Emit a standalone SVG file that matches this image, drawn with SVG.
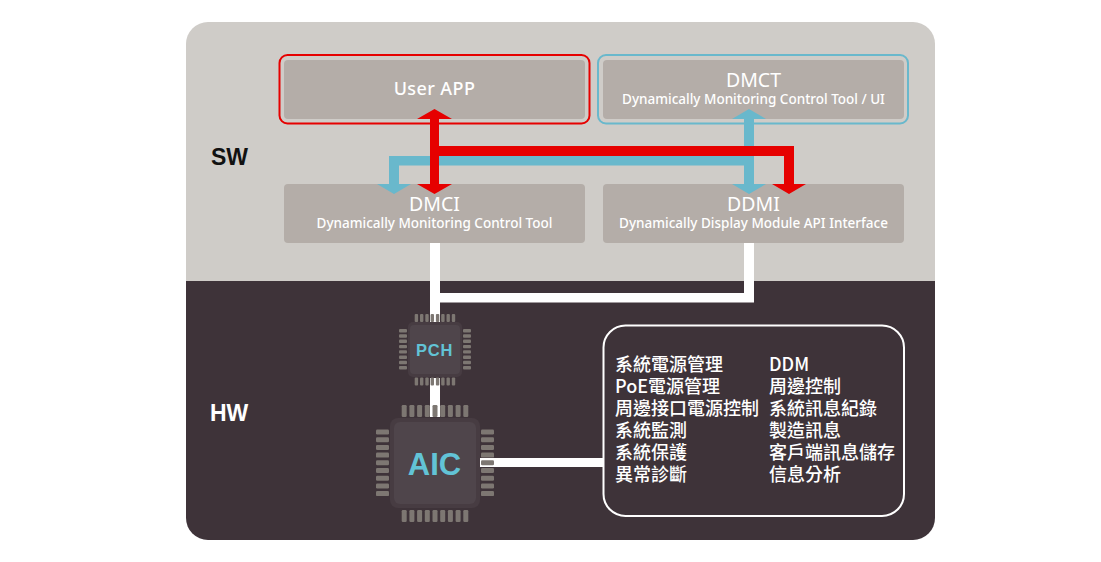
<svg xmlns="http://www.w3.org/2000/svg" width="1101" height="562" viewBox="0 0 1101 562">
<style>
.box{fill:#b4ada8}
.t{font-family:"Noto Sans","Open Sans",sans-serif;fill:#fff;text-anchor:middle}
.h{font-size:19.500px}
.s{font-size:13.500px;font-weight:500}
.lab{font-family:"Liberation Sans",Arial,sans-serif;font-weight:700;font-size:23px}
.cjk{font-family:"Noto Sans CJK TC","Noto Sans",sans-serif;font-size:18px;font-weight:500;fill:#fff}
.pin{fill:#7d7772}
.chip{font-family:"Liberation Sans",Arial,sans-serif;font-weight:700;fill:#62c3d6;text-anchor:middle}
.red{fill:#e60000}.blue{fill:#69b8cc}.wh{fill:#fff}
</style>
<defs>
<g id="pv"><rect width="3.400" height="8" rx="1" class="pin"/></g>
<g id="ph"><rect width="8" height="3.400" rx="1" class="pin"/></g>
<g id="bv"><rect width="5" height="12" rx="1.200" class="pin"/></g>
<g id="bh"><rect width="13" height="5" rx="1.200" class="pin"/></g>
</defs>
<g id="panels">
<path d="M186 281V44a22 22 0 0 1 22-22H913a22 22 0 0 1 22 22V281Z" fill="#cfccc8"/>
<path d="M186 281H935V518a22 22 0 0 1-22 22H208a22 22 0 0 1-22-22Z" fill="#3e3339"/>
<text class="lab" x="211" y="165" fill="#111">SW</text>
<text class="lab" x="210" y="421" fill="#fff">HW</text>
</g>
<g id="user-app">
<rect x="279.500" y="55" width="310" height="68.500" rx="8" fill="none" stroke="#e60000" stroke-width="2"/>
<rect class="box" x="284" y="60" width="301" height="59" rx="4"/>
<text class="t" x="434.500" y="95" font-size="18" font-weight="500" letter-spacing="0.400">User APP</text>
</g>
<g id="dmct">
<rect x="598" y="55" width="310" height="68.500" rx="8" fill="none" stroke="#69b8cc" stroke-width="2"/>
<rect class="box" x="603" y="60" width="301" height="59" rx="4"/>
<text class="t h" x="753.500" y="87">DMCT</text>
<text class="t s" x="753.500" y="104">Dynamically Monitoring Control Tool / UI</text>
</g>
<g id="dmci">
<rect class="box" x="284" y="184" width="301" height="59" rx="4"/>
<text class="t h" x="434.500" y="211">DMCI</text>
<text class="t s" x="434.500" y="228">Dynamically Monitoring Control Tool</text>
</g>
<g id="ddmi">
<rect class="box" x="603" y="184" width="301" height="59" rx="4"/>
<text class="t h" x="753.500" y="211">DDMI</text>
<text class="t s" x="753.500" y="228">Dynamically Display Module API Interface</text>
</g>
<g id="connectors">
<path class="wh" d="M430 243h10v50h304v-50h10v59.500h-314V322h-10Z"/>
<rect class="wh" x="430" y="378" width="10" height="39"/>
<rect class="wh" x="480" y="458" width="124" height="9"/>
<path class="blue" d="M389 156H754V165.500H399V184H411L394 194L377 184H389Z"/>
<path class="blue" d="M749 109L766 119H754V184H766L749 194L732 184H744V119H732Z"/>
<path class="red" d="M434.500 109L452 119H439V146H794V184H806L789 194L772 184H784V156H439V184H452L434.500 194L417 184H430V119H417Z"/>
</g>
<g id="pch">
<rect x="408" y="322" width="54" height="55" rx="5" fill="#473c42"/>
<rect x="410" y="325" width="50" height="49" rx="4" fill="#4f454b"/>
<g>
<use href="#pv" x="414.700" y="314"/><use href="#pv" x="420" y="314"/><use href="#pv" x="425.300" y="314"/><use href="#pv" x="430.600" y="314"/><use href="#pv" x="435.900" y="314"/><use href="#pv" x="441.200" y="314"/><use href="#pv" x="446.500" y="314"/><use href="#pv" x="451.800" y="314"/>
<use href="#pv" x="414.700" y="377.500"/><use href="#pv" x="420" y="377.500"/><use href="#pv" x="425.300" y="377.500"/><use href="#pv" x="430.600" y="377.500"/><use href="#pv" x="435.900" y="377.500"/><use href="#pv" x="441.200" y="377.500"/><use href="#pv" x="446.500" y="377.500"/><use href="#pv" x="451.800" y="377.500"/>
<use href="#ph" x="399" y="329"/><use href="#ph" x="399" y="334.300"/><use href="#ph" x="399" y="339.600"/><use href="#ph" x="399" y="344.900"/><use href="#ph" x="399" y="350.200"/><use href="#ph" x="399" y="355.500"/><use href="#ph" x="399" y="360.800"/><use href="#ph" x="399" y="366.100"/>
<use href="#ph" x="463" y="329"/><use href="#ph" x="463" y="334.300"/><use href="#ph" x="463" y="339.600"/><use href="#ph" x="463" y="344.900"/><use href="#ph" x="463" y="350.200"/><use href="#ph" x="463" y="355.500"/><use href="#ph" x="463" y="360.800"/><use href="#ph" x="463" y="366.100"/>
</g>
<text class="chip" x="434.500" y="355.500" font-size="16.500" letter-spacing="0.800">PCH</text>
</g>
<g id="aic">
<rect x="390" y="418" width="90" height="90" rx="8" fill="#473c42"/>
<rect x="394" y="422" width="82" height="82" rx="6" fill="#4f454b"/>
<g>
<use href="#bv" x="401.700" y="405"/><use href="#bv" x="409.400" y="405"/><use href="#bv" x="417.100" y="405"/><use href="#bv" x="424.800" y="405"/><use href="#bv" x="432.500" y="405"/><use href="#bv" x="440.200" y="405"/><use href="#bv" x="447.900" y="405"/><use href="#bv" x="455.600" y="405"/><use href="#bv" x="463.300" y="405"/>
<use href="#bv" x="401.700" y="510"/><use href="#bv" x="409.400" y="510"/><use href="#bv" x="417.100" y="510"/><use href="#bv" x="424.800" y="510"/><use href="#bv" x="432.500" y="510"/><use href="#bv" x="440.200" y="510"/><use href="#bv" x="447.900" y="510"/><use href="#bv" x="455.600" y="510"/><use href="#bv" x="463.300" y="510"/>
<use href="#bh" x="376" y="429.500"/><use href="#bh" x="376" y="437.200"/><use href="#bh" x="376" y="444.900"/><use href="#bh" x="376" y="452.600"/><use href="#bh" x="376" y="460.300"/><use href="#bh" x="376" y="468"/><use href="#bh" x="376" y="475.700"/><use href="#bh" x="376" y="483.400"/><use href="#bh" x="376" y="491.100"/>
<use href="#bh" x="481" y="429.500"/><use href="#bh" x="481" y="437.200"/><use href="#bh" x="481" y="444.900"/><use href="#bh" x="481" y="452.600"/><use href="#bh" x="481" y="460.300"/><use href="#bh" x="481" y="468"/><use href="#bh" x="481" y="475.700"/><use href="#bh" x="481" y="483.400"/><use href="#bh" x="481" y="491.100"/>
</g>
<text class="chip" x="434.500" y="475" font-size="31">AIC</text>
</g>
<g id="features">
<rect x="603.500" y="325.500" width="300.500" height="190.500" rx="22" fill="#3e3339" stroke="#fff" stroke-width="2"/>
<g class="cjk">
<text x="615" y="371">系統電源管理</text>
<text x="615" y="393">PoE電源管理</text>
<text x="615" y="415">周邊接口電源控制</text>
<text x="615" y="437">系統監測</text>
<text x="615" y="459">系統保護</text>
<text x="615" y="481">異常診斷</text>
<text x="769" y="371">DDM</text>
<text x="769" y="393">周邊控制</text>
<text x="769" y="415">系統訊息紀錄</text>
<text x="769" y="437">製造訊息</text>
<text x="769" y="459">客戶端訊息儲存</text>
<text x="769" y="481">信息分析</text>
</g>
</g>
</svg>
